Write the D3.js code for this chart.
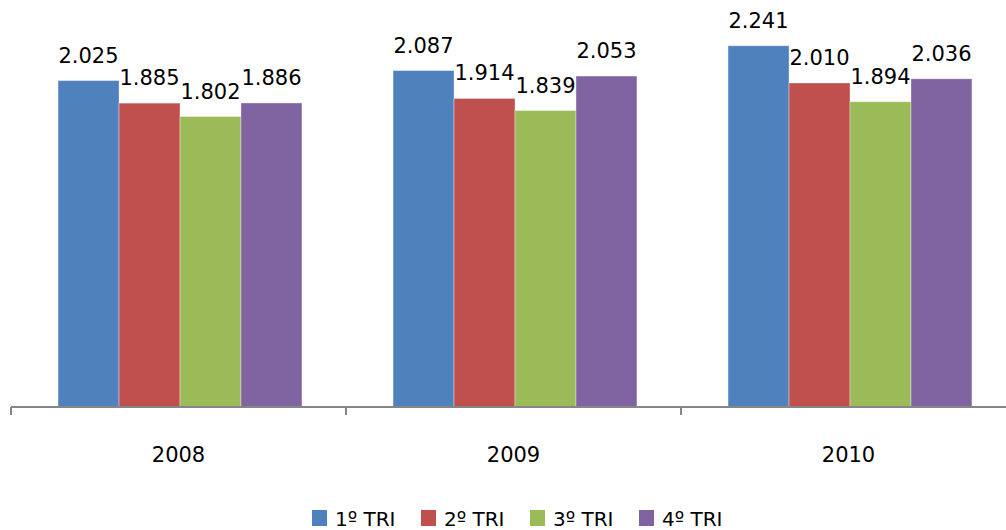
<!DOCTYPE html>
<html>
<head>
<meta charset="utf-8">
<script src="https://cdn.jsdelivr.net/npm/d3@7"></script>
<style>
  html, body { margin: 0; padding: 0; background: #fff; }
  svg { display: block; }
  text { font-family: "DejaVu Sans", sans-serif; fill: #000; }
</style>
</head>
<body>
<svg id="chart" width="1006" height="530"></svg>
<script>
// Quarterly totals per year
const years = ["2008", "2009", "2010"];
const quarters = ["1º TRI", "2º TRI", "3º TRI", "4º TRI"];
const tri1 = [2025, 2087, 2241];
const tri2 = [1885, 1914, 2010];
const tri3 = [1802, 1839, 1894];
const tri4 = [1886, 2053, 2036];
const colors = ["#4F81BD", "#C0504D", "#9BBB59", "#8064A2"];

const series = [tri1, tri2, tri3, tri4];
const rows = years.map((y, i) => ({ year: y, values: quarters.map((q, j) => ({ q, v: series[j][i] })) }));

// pt-BR number style: dot as thousands separator
const fmt = d3.formatLocale({ decimal: ",", thousands: ".", grouping: [3], currency: ["R$", ""] }).format(",d");

const svg = d3.select("#chart");
const baseY = 407;

const x = d3.scaleBand().domain(years).range([11, 1016]);
const gap = x.bandwidth() * 0.136;
const xq = d3.scaleBand().domain(quarters).range([gap + 1.5, x.bandwidth() - gap + 1.5]);
const y = d3.scaleLinear().domain([0, 2500]).range([baseY, 4]);
const color = d3.scaleOrdinal().domain(quarters).range(colors);

// Bars
const groups = svg.append("g").selectAll("g")
  .data(rows).join("g")
  .attr("transform", d => `translate(${x(d.year)},0)`);

groups.selectAll("rect")
  .data(d => d.values).join("rect")
  .attr("x", d => xq(d.q))
  .attr("y", d => y(d.v))
  .attr("width", xq.bandwidth())
  .attr("height", d => y(0) - y(d.v) + 1)
  .attr("fill", d => color(d.q))
  .attr("stroke", "rgba(255,255,255,0.35)")
  .attr("stroke-width", 1);

// Value labels
groups.selectAll("text.val")
  .data(d => d.values).join("text")
  .attr("class", "val")
  .attr("x", d => xq(d.q) + xq.bandwidth() / 2)
  .attr("y", d => y(d.v) - 18)
  .attr("text-anchor", "middle")
  .attr("font-size", 21)
  .text(d => fmt(d.v));

// Category axis
const axis = svg.append("g").attr("stroke", "#868686").attr("stroke-width", 2);
axis.append("line")
  .attr("x1", x.range()[0]).attr("x2", 1006)
  .attr("y1", baseY).attr("y2", baseY);
axis.selectAll("line.tick")
  .data(years.concat(["end"])).join("line")
  .attr("class", "tick")
  .attr("x1", (d, i) => x.range()[0] + i * x.step())
  .attr("x2", (d, i) => x.range()[0] + i * x.step())
  .attr("y1", baseY).attr("y2", baseY + 8);

svg.append("g").selectAll("text")
  .data(years).join("text")
  .attr("x", d => x(d) + x.bandwidth() / 2)
  .attr("y", 462)
  .attr("text-anchor", "middle")
  .attr("font-size", 21)
  .text(d => d);

// Legend
const legend = svg.append("g").selectAll("g")
  .data(quarters).join("g")
  .attr("transform", (d, i) => `translate(${312 + i * 109},0)`);
legend.append("rect")
  .attr("x", 0).attr("y", 510)
  .attr("width", 15).attr("height", 16)
  .attr("fill", d => color(d));
legend.append("text")
  .attr("x", 23).attr("y", 526)
  .attr("font-size", 20)
  .text(d => d);
</script>
</body>
</html>
